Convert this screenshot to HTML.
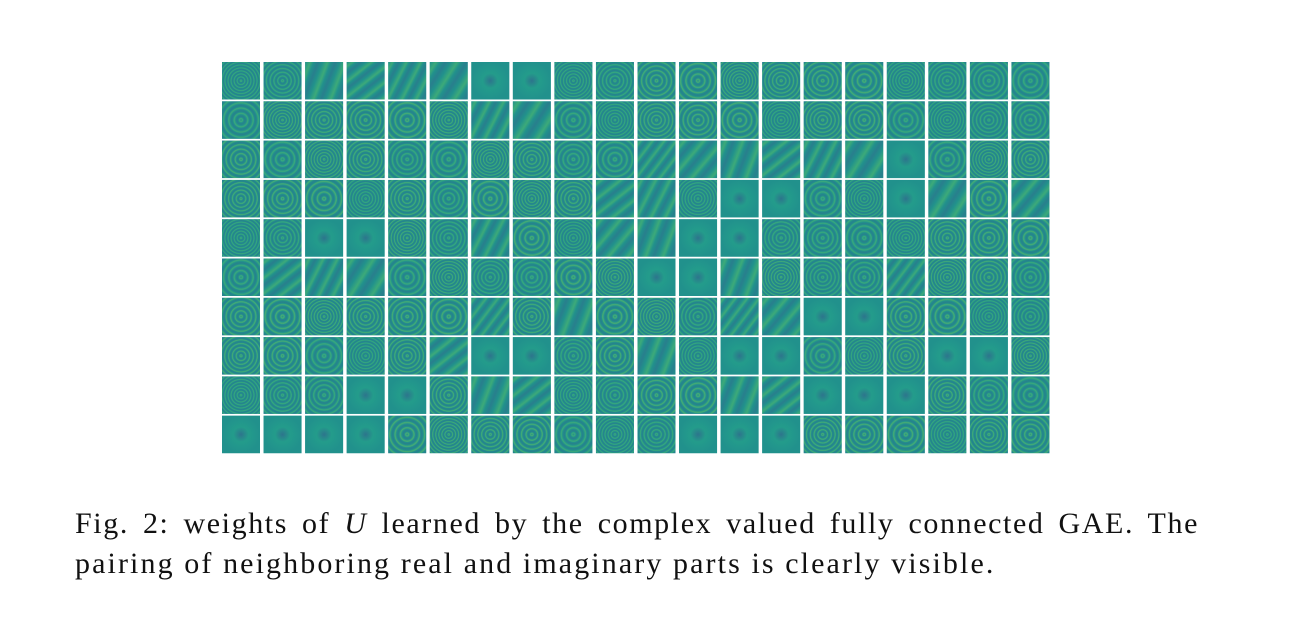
<!DOCTYPE html>
<html><head><meta charset="utf-8"><style>
body{margin:0;width:1303px;height:630px;background:#fff;position:relative;overflow:hidden}
#grid{position:absolute;left:0;top:0}
.cap{position:absolute;left:75px;width:1124px;font-family:"Liberation Serif",serif;font-size:30px;letter-spacing:2.1px;color:#111;white-space:nowrap}
</style></head><body>
<svg id="grid" width="1303" height="470"></svg>
<div class="cap" style="top:507px;text-align:justify;text-align-last:justify;letter-spacing:1.6px">Fig. 2: weights of <i>U</i> learned by the complex valued fully connected GAE. The</div>
<div class="cap" style="top:547px">pairing of neighboring real and imaginary parts is clearly visible.</div>
<script>
const cols=20, rows=10;
// pattern type per tile: 0 rings, 1 stripes, 2 blob, 3 dotted rings
const types=[
"00111122003333330000","03333311003330330000","30330033001111112033","33303033311022002131",
"00223013011220000333","01110300332213001330","33333313133011223300","33003122031022003223",
"00022311003311222300","22223333000222333033"];
const svg=document.getElementById('grid');
const NS='http://www.w3.org/2000/svg';
let defs=document.createElementNS(NS,'defs');svg.appendChild(defs);
const X0=222,Y0=62,PX=41.55,PY=39.3,W=38,H=37.5;
for(let r=0;r<rows;r++)for(let c=0;c<cols;c++){
 const t=+types[r][c],id='g'+r+'_'+c,x=X0+c*PX,y=Y0+r*PY;
 let g;
 if(t==1){g=document.createElementNS(NS,'linearGradient');g.setAttribute('x1','0');g.setAttribute('y1','0');g.setAttribute('x2',(0.2+((r+c)%3)*0.1).toString());g.setAttribute('y2',(0.15+(c%2)*0.1).toString());}
 else {g=document.createElementNS(NS,'radialGradient');g.setAttribute('cx','0.5');g.setAttribute('cy','0.5');g.setAttribute('r',t==2?'0.5':(0.08+((r*7+c)%4)*0.02).toString());}
 g.setAttribute('id',id);g.setAttribute('spreadMethod',t==2?'pad':'repeat');
 const stops=t==2?[[0,'#3b528b'],[0.4,'#26a98a'],[1,'#21918c']]:[[0,'#21918c'],[0.3,t==3?'#7ad151':'#5ec962'],[0.5,'#21918c'],[0.75,'#31688e'],[1,'#21918c']];
 stops.forEach(s=>{const st=document.createElementNS(NS,'stop');st.setAttribute('offset',s[0]);st.setAttribute('stop-color',s[1]);g.appendChild(st);});
 defs.appendChild(g);
 const bg=document.createElementNS(NS,'rect');
 
 
 bg.setAttribute('x',x);bg.setAttribute('y',y);bg.setAttribute('width',W);bg.setAttribute('height',H);bg.setAttribute('fill','#21918c');svg.appendChild(bg);
 const p=document.createElementNS(NS,'rect');
 
 
 p.setAttribute('x',x);p.setAttribute('y',y);p.setAttribute('width',W);p.setAttribute('height',H);p.setAttribute('fill','url(#'+id+')');p.setAttribute('opacity','0.45');svg.appendChild(p);
}
</script>
</body></html>
